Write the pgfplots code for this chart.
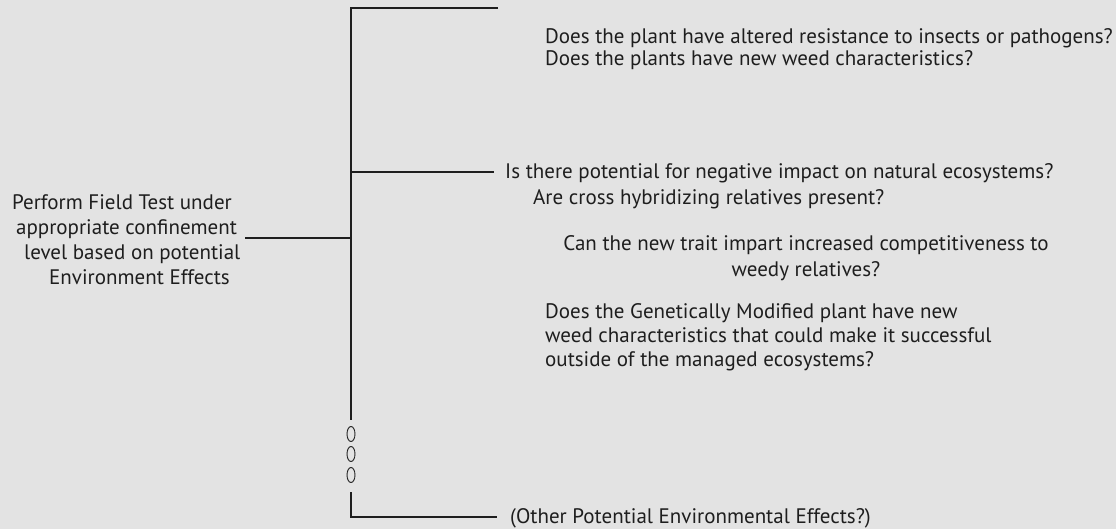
\documentclass[border=0pt]{standalone}
\usepackage{pgfplots}
\pgfplotsset{compat=1.18}
\usepackage{fontspec}
\setmainfont{PT Sans}
\definecolor{bg}{HTML}{E3E3E3}
\definecolor{ink}{HTML}{1E1E1E}
\begin{document}
\begin{tikzpicture}
\begin{axis}[
  width=1116pt, height=529pt, scale only axis,
  xmin=0, xmax=1116, ymin=0, ymax=529, y dir=reverse,
  hide axis, clip=false,
]
\addplot[fill=bg, draw=none] coordinates {(0,0) (1116,0) (1116,529) (0,529)} --cycle;
% tree lines
\addplot[ink, line width=1.2pt] coordinates {(498,8) (351,8) (351,420)};
\addplot[ink, line width=1.2pt] coordinates {(351,492) (351,517) (497,517)};
\addplot[ink, line width=1.2pt] coordinates {(351,172) (494,172)};
\addplot[ink, line width=1.2pt] coordinates {(245,238) (351,238)};
% dots (ovals)
\draw[ink, line width=0.9pt] (axis cs:351,434) ellipse [x radius=4, y radius=7.5];
\draw[ink, line width=0.9pt] (axis cs:351,454) ellipse [x radius=4, y radius=7.5];
\draw[ink, line width=0.9pt] (axis cs:351,475) ellipse [x radius=4, y radius=7.5];
% texts
\tikzset{t/.style={anchor=mid west, inner sep=0pt, text=ink, font=\fontsize{21}{24}\selectfont}}
\node[t] at (axis cs:12,207) {Perform Field Test under};
\node[t] at (axis cs:16,232) {appropriate confinement};
\node[t] at (axis cs:24,257) {level based on potential};
\node[t] at (axis cs:49,282) {Environment Effects};
\node[t] at (axis cs:545,41) {Does the plant have altered resistance to insects or pathogens?};
\node[t] at (axis cs:545,63) {Does the plants have new weed characteristics?};
\node[t] at (axis cs:505,176) {Is there potential for negative impact on natural ecosystems?};
\node[t] at (axis cs:533,202) {Are cross hybridizing relatives present?};
\node[t, anchor=mid] at (axis cs:806,248) {Can the new trait impart increased competitiveness to};
\node[t, anchor=mid] at (axis cs:806,274) {weedy relatives?};
\node[t] at (axis cs:545,316) {Does the Genetically Modified plant have new};
\node[t] at (axis cs:545,340) {weed characteristics that could make it successful};
\node[t] at (axis cs:545,364) {outside of the managed ecosystems?};
\node[t] at (axis cs:510,521) {(Other Potential Environmental Effects?)};
\end{axis}
\end{tikzpicture}
\end{document}
